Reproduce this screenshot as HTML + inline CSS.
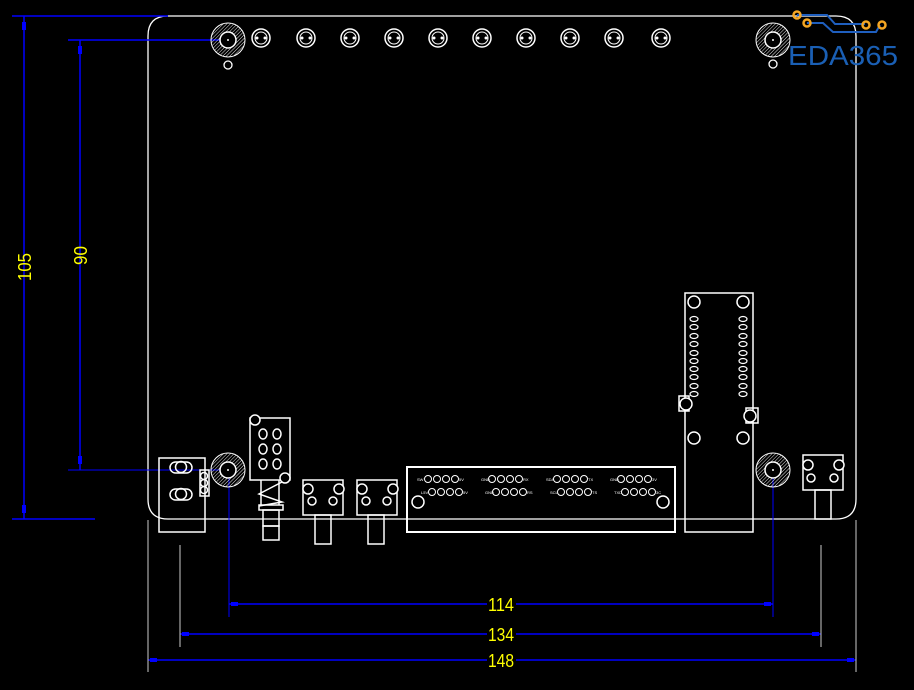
<!DOCTYPE html>
<html><head><meta charset="utf-8"><style>
html,body{margin:0;padding:0;background:#000;width:914px;height:690px;overflow:hidden}
svg{display:block}
</style></head><body>
<svg width="914" height="690" viewBox="0 0 914 690" xmlns="http://www.w3.org/2000/svg">
<defs>
<pattern id="h" width="2.5" height="2.5" patternUnits="userSpaceOnUse" patternTransform="rotate(45)">
<line x1="0" y1="0" x2="0" y2="2.5" stroke="#fff" stroke-width="0.9"/>
</pattern>
<g id="mh"><circle r="17" fill="url(#h)" stroke="#fff" stroke-width="1"/><circle r="8" fill="#000" stroke="#fff" stroke-width="1.5"/><circle r="1" fill="#fff"/></g>
<g id="tc"><circle r="9" fill="none" stroke="#fff" stroke-width="1.5"/><circle r="6" fill="none" stroke="#fff" stroke-width="1"/><circle cx="-4" r="1.5" fill="#fff"/><circle cx="4" r="1.5" fill="#fff"/></g>
</defs>
<g fill="none" stroke="#fff" stroke-width="1.3">
<path d="M168 16 H836 Q856 16 856 36 V499 Q856 519 836 519 H168 Q148 519 148 499 V36 Q148 16 168 16 Z"/>
</g>
<g stroke="#0000ff" stroke-width="1.5" fill="none">
<line x1="12" y1="16" x2="168" y2="16"/>
<line x1="24" y1="16" x2="24" y2="519"/>
<line x1="12" y1="519" x2="95" y2="519"/>
<line x1="68" y1="40" x2="228" y2="40"/>
<line x1="80" y1="40" x2="80" y2="470"/>
<line x1="68" y1="470" x2="228" y2="470" stroke-width="1"/>
<line x1="229" y1="470" x2="229" y2="617" stroke-width="1"/>
<line x1="773" y1="470" x2="773" y2="617" stroke-width="1"/>
<line x1="229" y1="604" x2="487" y2="604"/><line x1="516" y1="604" x2="773" y2="604"/>
<line x1="180" y1="634" x2="487" y2="634"/><line x1="516" y1="634" x2="821" y2="634"/>
<line x1="148" y1="660" x2="487" y2="660"/><line x1="516" y1="660" x2="856" y2="660"/>
</g>
<g fill="#0000ff">
<rect x="22" y="22" width="4" height="8"/><rect x="22" y="505" width="4" height="8"/>
<rect x="78" y="46" width="4" height="8"/><rect x="78" y="456" width="4" height="8"/>
<rect x="231" y="602" width="7" height="4"/><rect x="764" y="602" width="7" height="4"/>
<rect x="182" y="632" width="7" height="4"/><rect x="812" y="632" width="7" height="4"/>
<rect x="150" y="658" width="7" height="4"/><rect x="847" y="658" width="7" height="4"/>
</g>
<g stroke="#ccc" stroke-width="1">
<line x1="148" y1="520" x2="148" y2="672"/><line x1="856" y1="520" x2="856" y2="672"/>
<line x1="180" y1="545" x2="180" y2="647"/><line x1="821" y1="545" x2="821" y2="647"/>
</g>
<g fill="#ffff00" font-family="Liberation Sans, sans-serif" font-size="18">
<text x="488" y="611" textLength="26" lengthAdjust="spacingAndGlyphs">114</text>
<text x="488" y="641" textLength="26" lengthAdjust="spacingAndGlyphs">134</text>
<text x="488" y="667" textLength="26" lengthAdjust="spacingAndGlyphs">148</text>
<text transform="translate(31,281) rotate(-90)" textLength="28" lengthAdjust="spacingAndGlyphs">105</text>
<text transform="translate(87,265) rotate(-90)" textLength="19" lengthAdjust="spacingAndGlyphs">90</text>
</g>
<use href="#mh" x="228" y="40"/><use href="#mh" x="773" y="40"/>
<use href="#mh" x="228" y="470"/><use href="#mh" x="773" y="470"/>
<g fill="none" stroke="#fff" stroke-width="1.3">
<circle cx="228" cy="65" r="4"/><circle cx="773" cy="64" r="4"/>
</g>
<use href="#tc" x="261" y="38"/><use href="#tc" x="306" y="38"/><use href="#tc" x="350" y="38"/>
<use href="#tc" x="394" y="38"/><use href="#tc" x="438" y="38"/><use href="#tc" x="482" y="38"/>
<use href="#tc" x="526" y="38"/><use href="#tc" x="570" y="38"/><use href="#tc" x="614" y="38"/>
<use href="#tc" x="661" y="38"/>
<g fill="none" stroke="#fff" stroke-width="1.5">
<rect x="159" y="458" width="46" height="74"/>
<rect x="200" y="470" width="9" height="26"/>
<circle cx="204" cy="476" r="3.5"/><circle cx="204" cy="483" r="3.5"/><circle cx="204" cy="490" r="3.5"/>
<rect x="170" y="462" width="22" height="11" rx="5.5"/><circle cx="181" cy="467" r="5.5"/>
<rect x="170" y="489" width="22" height="11" rx="5.5"/><circle cx="181" cy="494" r="5.5"/>
<rect x="250" y="418" width="40" height="62"/>
<circle cx="255" cy="420" r="5" fill="#000"/><circle cx="285" cy="478" r="5" fill="#000"/>
<ellipse cx="263" cy="434" rx="4" ry="5"/><ellipse cx="277" cy="434" rx="4" ry="5"/>
<ellipse cx="263" cy="449" rx="4" ry="5"/><ellipse cx="277" cy="449" rx="4" ry="5"/>
<ellipse cx="263" cy="464" rx="4" ry="5"/><ellipse cx="277" cy="464" rx="4" ry="5"/>
<polyline points="282,482 259,494 282,502 259,506"/>
<line x1="261" y1="480" x2="261" y2="505"/><line x1="279" y1="480" x2="279" y2="505"/>
<rect x="259" y="505" width="24" height="5"/>
<rect x="263" y="510" width="16" height="16"/>
<rect x="263" y="526" width="16" height="14"/>
<rect x="303" y="480" width="40" height="35"/>
<circle cx="308" cy="489" r="5" fill="#000"/><circle cx="339" cy="489" r="5" fill="#000"/>
<circle cx="312" cy="501" r="4"/><circle cx="333" cy="501" r="4"/>
<rect x="315" y="515" width="16" height="29"/>
<rect x="357" y="480" width="40" height="35"/>
<circle cx="362" cy="489" r="5" fill="#000"/><circle cx="393" cy="489" r="5" fill="#000"/>
<circle cx="366" cy="501" r="4"/><circle cx="387" cy="501" r="4"/>
<rect x="368" y="515" width="16" height="29"/>
<rect x="407" y="467" width="268" height="65" stroke-width="2"/>
<circle cx="418" cy="502" r="6"/><circle cx="663" cy="502" r="6"/>
<rect x="685" y="293" width="68" height="239"/>
<circle cx="694" cy="302" r="6"/><circle cx="743" cy="302" r="6"/>
<circle cx="694" cy="438" r="6"/><circle cx="743" cy="438" r="6"/>
<rect x="679" y="396" width="10" height="15"/><circle cx="686" cy="404" r="6" fill="#000"/>
<rect x="746" y="408" width="12" height="15"/><circle cx="750" cy="416" r="6" fill="#000"/>
<rect x="803" y="455" width="40" height="35"/>
<circle cx="808" cy="465" r="5" fill="#000"/><circle cx="839" cy="465" r="5" fill="#000"/>
<circle cx="811" cy="478" r="4"/><circle cx="834" cy="478" r="4"/>
<rect x="815" y="490" width="16" height="29"/>
</g>
<g fill="none" stroke="#fff" stroke-width="1.2">
<ellipse cx="694" cy="319" rx="4" ry="2.5"/><ellipse cx="694" cy="327" rx="4" ry="2.5"/><ellipse cx="694" cy="336" rx="4" ry="2.5"/><ellipse cx="694" cy="344" rx="4" ry="2.5"/><ellipse cx="694" cy="353" rx="4" ry="2.5"/><ellipse cx="694" cy="361" rx="4" ry="2.5"/><ellipse cx="694" cy="369" rx="4" ry="2.5"/><ellipse cx="694" cy="377" rx="4" ry="2.5"/><ellipse cx="694" cy="386" rx="4" ry="2.5"/><ellipse cx="694" cy="394" rx="4" ry="2.5"/>
<ellipse cx="743" cy="319" rx="4" ry="2.5"/><ellipse cx="743" cy="327" rx="4" ry="2.5"/><ellipse cx="743" cy="336" rx="4" ry="2.5"/><ellipse cx="743" cy="344" rx="4" ry="2.5"/><ellipse cx="743" cy="353" rx="4" ry="2.5"/><ellipse cx="743" cy="361" rx="4" ry="2.5"/><ellipse cx="743" cy="369" rx="4" ry="2.5"/><ellipse cx="743" cy="377" rx="4" ry="2.5"/><ellipse cx="743" cy="386" rx="4" ry="2.5"/><ellipse cx="743" cy="394" rx="4" ry="2.5"/>
</g>
<g fill="none" stroke="#fff" stroke-width="1">
<g id="row"><circle cx="428" cy="479" r="3.5"/><circle cx="437" cy="479" r="3.5"/><circle cx="446" cy="479" r="3.5"/><circle cx="455" cy="479" r="3.5"/></g>
<use href="#row" x="64"/><use href="#row" x="129"/><use href="#row" x="193"/>
<use href="#row" x="4" y="13"/><use href="#row" x="68" y="13"/><use href="#row" x="133" y="13"/><use href="#row" x="197" y="13"/>
</g>
<g fill="#fff" font-family="Liberation Sans, sans-serif" font-size="4">
<text x="417" y="481">SW</text><text x="459" y="481">5V</text>
<text x="481" y="481">GND</text><text x="523" y="481">RX</text>
<text x="546" y="481">SDA</text><text x="588" y="481">TX</text>
<text x="610" y="481">GND</text><text x="652" y="481">3V</text>
<text x="421" y="494">L5V</text><text x="463" y="494">5V</text>
<text x="485" y="494">GND</text><text x="527" y="494">RS</text>
<text x="550" y="494">SCL</text><text x="592" y="494">TS</text>
<text x="614" y="494">TXD</text><text x="656" y="494">3C</text>
</g>
<g stroke="#1f5fbf" stroke-width="2" fill="none">
<polyline points="797,15 827,15 835,24 865,24"/>
<polyline points="807,23 823,23 833,32 876,32 880,25"/>
</g>
<g fill="none" stroke="#f5a623" stroke-width="2.5">
<circle cx="797" cy="15" r="3.5"/><circle cx="807" cy="23" r="3.5"/>
<circle cx="866" cy="25" r="3.5"/><circle cx="882" cy="25" r="3.5"/>
</g>
<text x="788" y="65" fill="#1a5fb4" font-family="Liberation Sans, sans-serif" font-size="28" textLength="110" lengthAdjust="spacingAndGlyphs">EDA365</text>
</svg>
</body></html>
